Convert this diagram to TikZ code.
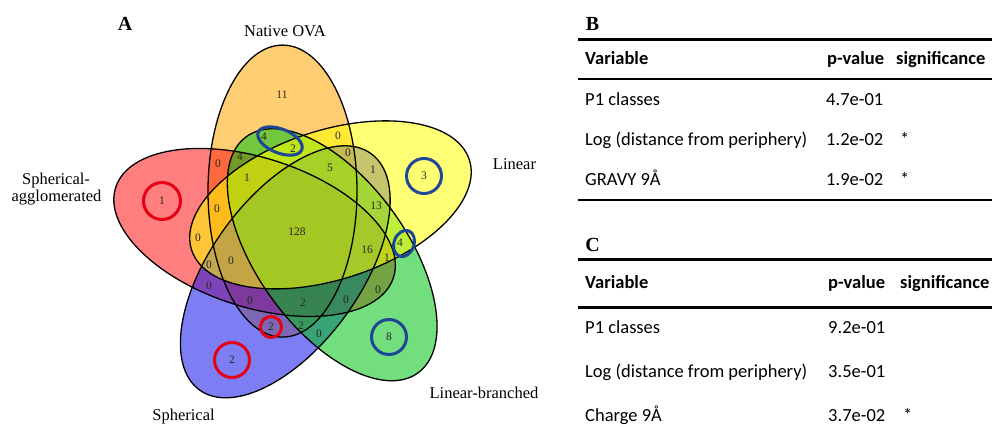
\documentclass[tikz,border=0pt]{standalone}
\usepackage{fontspec}
\setmainfont{Liberation Serif}
\newfontfamily\tabfont{Carlito}
\definecolor{vorange}{RGB}{255,165,0}
\definecolor{vred}{RGB}{255,20,20}
\definecolor{vblue}{RGB}{20,20,235}
\definecolor{vgreen}{RGB}{0,195,20}
\definecolor{vyellow}{RGB}{255,255,0}
\definecolor{ringred}{RGB}{230,0,20}
\definecolor{ringblue}{RGB}{30,70,150}
\tikzset{
  vline/.style={draw=black, line width=1.3pt},
  num/.style={font=\fontsize{11.5}{11.5}\selectfont, text=black!85, inner sep=0pt},
  setlabel/.style={font=\fontsize{16.5}{18}\selectfont, inner sep=0pt, anchor=base},
  panel/.style={font=\bfseries\fontsize{20}{22}\selectfont, inner sep=0pt, anchor=base},
  redring/.style={draw=ringred, line width=3pt},
  bluering/.style={draw=ringblue, line width=3pt},
  tcell/.style={font=\tabfont\fontsize{18.5}{20}\selectfont, inner sep=0pt, anchor=base west},
  thdr/.style={font=\tabfont\bfseries\fontsize{18.5}{20}\selectfont, inner sep=0pt, anchor=base west},
  trule/.style={draw=black, line width=2.5pt},
}
\begin{document}
\begin{tikzpicture}[x=1pt,y=1pt]
\useasboundingbox (0,0) rectangle (992,-427);
% ---- Venn fills
\coordinate (vc) at (297,-231);
\foreach \ang/\col in {0/vorange, 72/vred, 144/vblue, -144/vgreen, -72/vyellow} {
  \path[rotate around={\ang:(vc)}, fill=\col, fill opacity=0.55]
    (282.5,-191.1) ellipse [x radius=74.5pt, y radius=146pt];
}
\foreach \ang in {0,72,144,-144,-72} {
  \path[rotate around={\ang:(vc)}, vline]
    (282.5,-191.1) ellipse [x radius=74.5pt, y radius=146pt];
}
% ---- region counts
\node[num] (r11) at (282,-95) {11};
\node[num] (r4a) at (264,-137) {4};
\node[num] (r2a) at (293,-149) {2};
\node[num] (r4b) at (240,-157) {4};
\node[num] (r0a) at (218,-164) {0};
\node[num] (r1a) at (247,-178) {1};
\node[num] (r1sa) at (162,-201) {1};
\node[num] (r0b) at (217,-209) {0};
\node[num] (r0c) at (338,-136) {0};
\node[num] (r0d) at (348,-153) {0};
\node[num] (r5) at (330,-168) {5};
\node[num] (r1b) at (373,-170) {1};
\node[num] (r3) at (424,-176) {3};
\node[num] (r13) at (376,-206) {13};
\node[num] (r128) at (297,-232) {128};
\node[num] (r0e) at (198,-238) {0};
\node[num] (r0f) at (209,-265) {0};
\node[num] (r0g) at (231,-261) {0};
\node[num] (r0h) at (209,-286) {0};
\node[num] (r0i) at (250,-301) {0};
\node[num] (r2b) at (271,-327) {2};
\node[num] (r2s) at (232,-360) {2};
\node[num] (r4c) at (400,-243) {4};
\node[num] (r16) at (367,-250) {16};
\node[num] (r1c) at (387,-258) {1};
\node[num] (r0j) at (378,-290) {0};
\node[num] (r0k) at (346,-300) {0};
\node[num] (r2c) at (303,-303) {2};
\node[num] (r2d) at (301,-326) {2};
\node[num] (r0l) at (319,-334) {0};
\node[num] (r8) at (389,-337) {8};
% ---- highlight rings
\draw[redring] (r1sa) circle (18.5pt);
\draw[redring] (r2s) circle (17.5pt);
\draw[redring] (r2b) circle (10.5pt);
\draw[bluering] (r3) circle (17.5pt);
\draw[bluering] (r8) circle (17.5pt);
\coordinate (e42) at (280,-141);
\draw[bluering, rotate around={-22:(e42)}] (e42) ellipse [x radius=23.5pt, y radius=12pt];
\coordinate (e4) at (404,-243.5);
\draw[bluering, rotate around={-20:(e4)}] (e4) ellipse [x radius=10pt, y radius=13.5pt];
% ---- set labels
\node[panel] (pA) at (125,-31) {A};
\node[setlabel] (lnat) at (285,-37) {Native OVA};
\node[setlabel] (lsa1) at (56,-185) {Spherical-};
\node[setlabel] (lsa2) at (56.5,-202) {agglomerated};
\node[setlabel] (llin) at (514.5,-170) {Linear};
\node[setlabel] (llb) at (484,-398) {Linear-branched};
\node[setlabel] (lsph) at (183.5,-420) {Spherical};
% ---- table B
\node[panel] (pB) at (592.5,-31) {B};
\coordinate (bt0) at (578,-39.5); \coordinate (bt1) at (992,-39.5);
\coordinate (bm0) at (578,-79); \coordinate (bm1) at (992,-79);
\coordinate (bb0) at (578,-200); \coordinate (bb1) at (992,-200);
\draw[trule] (bt0) -- (bt1);
\draw[trule] (bm0) -- (bm1);
\draw[trule] (bb0) -- (bb1);
\node[thdr] (bh1) at (585,-65) {Variable};
\node[thdr] (bh2) at (827,-65) {p-value};
\node[thdr] (bh3) at (896,-65) {significance};
\node[tcell] (b11) at (585,-106) {P1 classes};
\node[tcell] (b12) at (826,-106) {4.7e-01};
\node[tcell] (b21) at (585,-146) {Log (distance from periphery)};
\node[tcell] (b22) at (826,-146) {1.2e-02};
\node[tcell] (b23) at (900,-146) {*};
\node[tcell] (b31) at (585,-186) {GRAVY 9Å};
\node[tcell] (b32) at (826,-186) {1.9e-02};
\node[tcell] (b33) at (900,-186) {*};
% ---- table C
\node[panel] (pC) at (592.5,-252) {C};
\coordinate (ct0) at (578,-259.5); \coordinate (ct1) at (992,-259.5);
\coordinate (cm0) at (578,-307.5); \coordinate (cm1) at (992,-307.5);
\draw[trule] (ct0) -- (ct1);
\draw[trule] (cm0) -- (cm1);
\node[thdr] (ch1) at (585,-288) {Variable};
\node[thdr] (ch2) at (828,-288) {p-value};
\node[thdr] (ch3) at (900,-288) {significance};
\node[tcell] (c11) at (585,-333) {P1 classes};
\node[tcell] (c12) at (828,-333) {9.2e-01};
\node[tcell] (c21) at (585,-377) {Log (distance from periphery)};
\node[tcell] (c22) at (828,-377) {3.5e-01};
\node[tcell] (c31) at (585,-421) {Charge 9Å};
\node[tcell] (c32) at (828,-421) {3.7e-02};
\node[tcell] (c33) at (903,-421) {*};
\end{tikzpicture}
\end{document}
